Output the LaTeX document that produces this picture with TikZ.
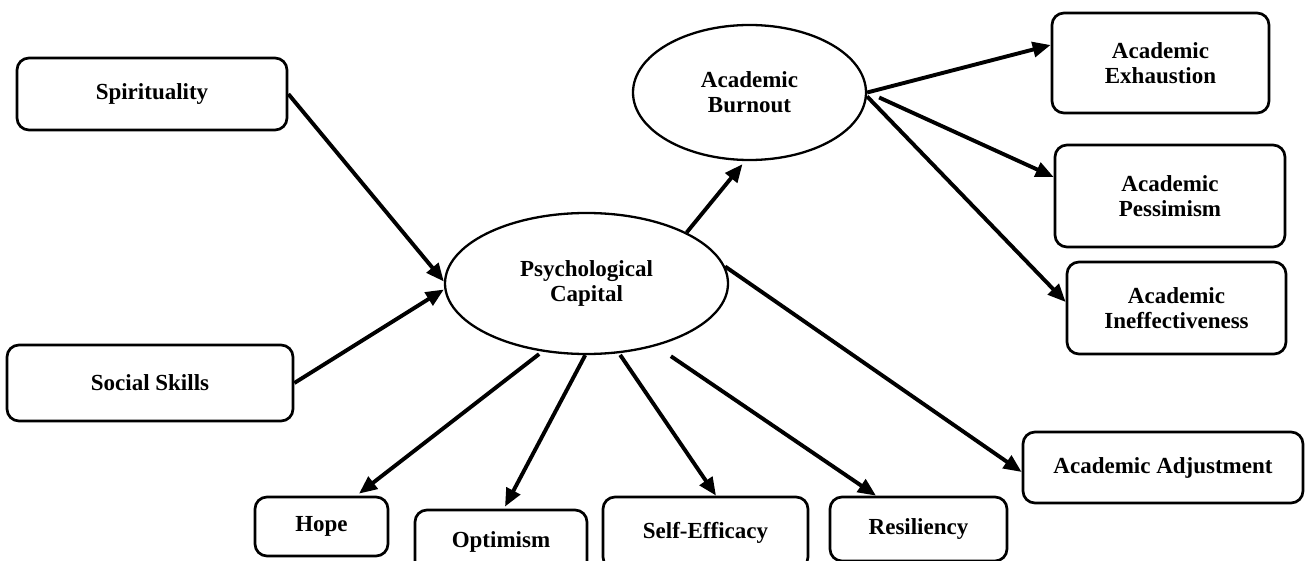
\documentclass[tikz,border=0pt]{standalone}
\usepackage{fontspec}
\setmainfont{Liberation Serif}
\usetikzlibrary{shapes.geometric,arrows.meta}
\begin{document}
\begin{tikzpicture}[x=1pt,y=-1pt,
  txt/.style={font=\bfseries\fontsize{23}{25}\selectfont, align=center, inner sep=0pt},
  box/.style={txt, draw, rounded corners=12pt, line width=2.7pt},
  ell/.style={txt, draw, ellipse, line width=2.3pt},
  arr/.style={line width=3.9pt, -{Triangle[length=18pt,width=15pt]}}]
\useasboundingbox (0,0) rectangle (1306,561);
\fill[white] (0,0) rectangle (1306,561);
% nodes
\node[box, minimum width=270, minimum height=72] (spir) at (152,94) {Spirituality};
\node[box, minimum width=286, minimum height=76] (soc) at (150,383) {Social Skills};
\node[ell, minimum width=283, minimum height=141] (pc) at (586.5,283.5) {Psychological\\Capital};
\node[ell, minimum width=233, minimum height=135] (ab) at (749.5,92.5) {Academic\\Burnout};
\node[box, minimum width=217, minimum height=100] (exh) at (1160.5,63) {Academic\\Exhaustion};
\node[box, minimum width=230, minimum height=102] (pes) at (1170,196) {Academic\\Pessimism};
\node[box, minimum width=219, minimum height=92] (ineff) at (1176.5,308) {Academic\\Ineffectiveness};
\node[box, minimum width=280, minimum height=71] (adj) at (1163,467.5) {Academic Adjustment};
\node[box, minimum width=133, minimum height=59] (hope) at (321.5,526.5) {Hope};
\node[box, minimum width=172, minimum height=64] (opt) at (501,542) {Optimism};
\node[box, minimum width=205, minimum height=72] (se) at (705.5,533) {Self-Efficacy};
\node[box, minimum width=177, minimum height=64] (res) at (918.5,529) {Resiliency};
% connectors
\draw[arr] (spir.east) -- ([yshift=2pt]pc.west);
\draw[arr] (soc.east) -- ([yshift=-6pt]pc.west);
\draw[arr] (pc.27) -- ([xshift=-7pt,yshift=-3pt]ab.south);
\draw[arr] (ab.east) -- ([yshift=18pt]exh.west);
\draw[arr] ([xshift=12pt,yshift=-5pt]ab.east) -- ([yshift=19pt]pes.west);
\draw[arr] ([yshift=-4pt]ab.east) -- ([yshift=6pt]ineff.west);
\draw[arr] (pc.7) -- ([yshift=-4.5pt]adj.west);
\draw[arr, shorten <=4pt] (pc.-123) -- ([xshift=37.5pt,yshift=2pt]hope.north);
\draw[arr] (pc.-91) -- ([xshift=4pt,yshift=2pt]opt.north);
\draw[arr, shorten <=2pt] (pc.-65) -- ([xshift=10.5pt]se.north);
\draw[arr, shorten <=18pt] (pc.-42) -- ([xshift=-42.5pt]res.north);
\end{tikzpicture}
\end{document}
